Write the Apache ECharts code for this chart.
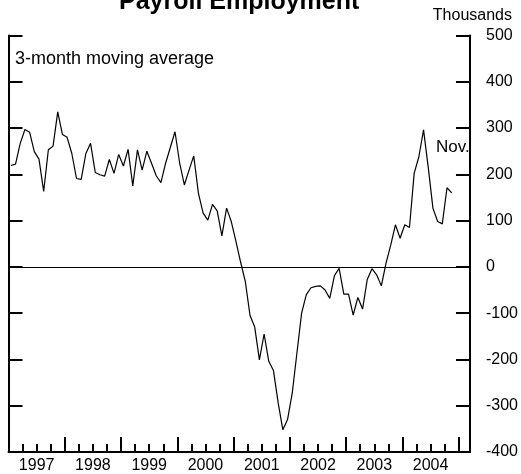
<!DOCTYPE html>
<html>
<head>
<meta charset="utf-8">
<script src="https://cdn.jsdelivr.net/npm/echarts@6/dist/echarts.min.js"></script>
<style>
  html, body { margin: 0; padding: 0; background: #fff; }
  #chart { width: 521px; height: 474px; }
</style>
</head>
<body>
<div id="chart"></div>
<script>
// monthly change, 3-month moving average, thousands (Jan 1997 - Nov 2004)
var payroll = [
  219, 222, 267, 297, 291, 249, 233, 163, 253, 261, 335, 286,
  280, 245, 191, 189, 245, 267, 204, 199, 196, 232, 202, 243,
  218, 254, 175, 253, 209, 250, 224, 197, 182, 224, 258, 292,
  224, 177, 209, 240, 159, 116, 101, 135, 121, 67, 127, 98,
  55, 10, -32, -105, -130, -201, -145, -204, -224, -294, -352, -330,
  -273, -186, -100, -60, -45, -42, -41, -50, -68, -19, -3, -59,
  -59, -104, -66, -91, -27, -4, -17, -41, 8, 47, 91, 62,
  91, 85, 202, 238, 296, 215, 127, 98, 93, 171, 160
]
var yearLabels = ['1997', '1998', '1999', '2000', '2001', '2002', '2003', '2004']
var yTicks = [-400, -300, -200, -100, 0, 100, 200, 300, 400, 500]

// x axis is months since Jan 1997, points sit mid-month
var xMax = 98.4
var seriesData = payroll.map(function(v, i) { return [i + 0.5, v] })
var yearTicks = []
var quarterTicks = []
var yearMids = []
for (var k = 0; k <= yearLabels.length; k++) {
  yearTicks.push(k * 12)
  if (k < yearLabels.length) yearMids.push(k * 12 + 6)
}
for (var q = 0; q <= yearLabels.length * 4; q++) quarterTicks.push(q * 3)

var font = 'Arial, "Liberation Sans", Helvetica, sans-serif'
var black = '#000'

var chart = echarts.init(document.getElementById('chart'))
chart.setOption({
  animation: false,
  textStyle: { fontFamily: font, color: black },
  grid: { left: 8.5, right: 47.5, top: 35.5, bottom: 21.5 },
  graphic: [
    {
      type: 'text', left: 119, top: -10,
      style: { text: 'Payroll Employment', fontFamily: font, fontSize: 25, fontWeight: 'bold', fill: black }
    },
    {
      type: 'text', right: 9, top: 8,
      style: { text: 'Thousands', fontFamily: font, fontSize: 16, fill: black }
    },
    {
      type: 'text', left: 15, top: 50,
      style: { text: '3-month moving average', fontFamily: font, fontSize: 18, fill: black }
    },
    {
      type: 'text', left: 436, top: 139, z: 100,
      style: { text: 'Nov.', fontFamily: font, fontSize: 17, fill: black }
    }
  ],
  xAxis: [
    {
      type: 'value', min: 0, max: xMax, position: 'bottom',
      splitLine: { show: false },
      axisLine: { onZero: false, lineStyle: { color: black, width: 2 } },
      axisTick: { customValues: quarterTicks, inside: true, length: 8, lineStyle: { color: black, width: 2 } },
      axisLabel: { show: false }
    },
    {
      type: 'value', min: 0, max: xMax, position: 'bottom',
      splitLine: { show: false },
      axisLine: { show: false, onZero: false },
      axisTick: { customValues: yearTicks, inside: true, length: 15, lineStyle: { color: black, width: 2 } },
      axisLabel: {
        customValues: yearMids, margin: 6, fontSize: 16, color: black, fontFamily: font,
        formatter: function(v) { return yearLabels[(v - 6) / 12] }
      }
    }
  ],
  yAxis: [
    {
      type: 'value', position: 'right', min: yTicks[0], max: yTicks[yTicks.length - 1], interval: 100,
      splitLine: { show: false },
      axisLine: { show: true, onZero: false, lineStyle: { color: black, width: 2 } },
      axisTick: { inside: true, length: 14, lineStyle: { color: black, width: 2 } },
      axisLabel: { margin: 16, fontSize: 16, color: black, fontFamily: font }
    },
    {
      type: 'value', position: 'left', min: yTicks[0], max: yTicks[yTicks.length - 1], interval: 100,
      splitLine: { show: false },
      axisLine: { show: true, onZero: false, lineStyle: { color: black, width: 2 } },
      axisTick: { inside: true, length: 14, lineStyle: { color: black, width: 2 } },
      axisLabel: { show: false }
    }
  ],
  series: [{
    type: 'line',
    xAxisIndex: 0,
    yAxisIndex: 0,
    data: seriesData,
    showSymbol: false,
    symbol: 'none',
    lineStyle: { color: black, width: 1.2 },
    markLine: {
      silent: true,
      symbol: 'none',
      label: { show: false },
      lineStyle: { color: black, width: 1, type: 'solid' },
      data: [{ yAxis: 0 }]
    }
  }]
})
</script>
</body>
</html>
